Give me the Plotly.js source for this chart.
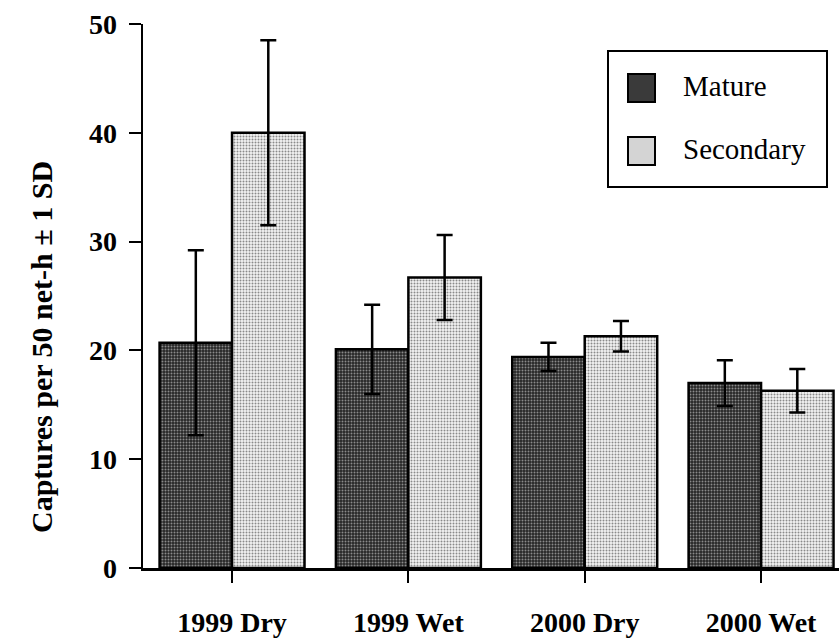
<!DOCTYPE html>
<html>
<head>
<meta charset="utf-8">
<script src="https://cdn.plot.ly/plotly-3.0.1.min.js"></script>
<style>html,body{margin:0;padding:0;background:#fff;}#chart{width:839px;height:639px;}</style>
</head>
<body>
<div id="chart"></div>
<script>
const categories = ['1999 Dry', '1999 Wet', '2000 Dry', '2000 Wet'];
const matureMean = [20.7, 20.1, 19.4, 17.0];
const matureSD = [8.5, 4.1, 1.3, 2.1];
const secondaryMean = [40.0, 26.7, 21.3, 16.3];
const secondarySD = [8.5, 3.9, 1.4, 2.0];
const yTicks = [0, 10, 20, 30, 40, 50];
const seriesNames = ['Mature', 'Secondary'];

const serif = 'Liberation Serif';
const errStyle = {type: 'data', visible: true, color: '#000', thickness: 2.5, width: 8};

const traces = [
  {
    type: 'bar', name: seriesNames[0], x: categories, y: matureMean,
    error_y: Object.assign({array: matureSD}, errStyle),
    marker: {color: '#3a3a3a', line: {color: '#000', width: 2.5},
      pattern: {shape: '.', bgcolor: '#262626', fgcolor: '#8a8a8a', size: 3, solidity: 0.35}},
    showlegend: false, hoverinfo: 'skip'
  },
  {
    type: 'bar', name: seriesNames[1], x: categories, y: secondaryMean,
    error_y: Object.assign({array: secondarySD}, errStyle),
    marker: {color: '#d4d4d4', line: {color: '#000', width: 2.5},
      pattern: {shape: '.', bgcolor: '#f4f4f4', fgcolor: '#8a8a8a', size: 3, solidity: 0.35}},
    showlegend: false, hoverinfo: 'skip'
  }
];

function px2x(px) { return (px - 143) / 696; }
function py2y(py) { return (568 - py) / 544; }

const shapes = [
  {type: 'rect', xref: 'paper', yref: 'paper', x0: px2x(608), x1: px2x(827), y0: py2y(187), y1: py2y(51),
   line: {color: '#000', width: 2}, fillcolor: '#fff'},
  {type: 'rect', xref: 'paper', yref: 'paper', x0: px2x(628), x1: px2x(655), y0: py2y(102), y1: py2y(74),
   line: {color: '#000', width: 2}, fillcolor: '#3a3a3a'},
  {type: 'rect', xref: 'paper', yref: 'paper', x0: px2x(628), x1: px2x(655), y0: py2y(165), y1: py2y(137),
   line: {color: '#000', width: 2}, fillcolor: '#d4d4d4'}
];

const annotations = [
  {xref: 'paper', yref: 'paper', x: px2x(681), y: py2y(86), xanchor: 'left', yanchor: 'middle',
   text: seriesNames[0], showarrow: false, font: {family: serif, size: 29, color: '#000'}},
  {xref: 'paper', yref: 'paper', x: px2x(681), y: py2y(149), xanchor: 'left', yanchor: 'middle',
   text: seriesNames[1], showarrow: false, font: {family: serif, size: 29, color: '#000'}},
  {xref: 'paper', yref: 'paper', x: px2x(41), y: py2y(347), xanchor: 'center', yanchor: 'middle',
   textangle: -90, text: 'Captures per 50 net-h ± 1 SD', showarrow: false,
   font: {family: serif, size: 30, color: '#000', weight: 'bold'}}
];

const layout = {
  width: 839, height: 639,
  font: {family: serif, color: '#000'},
  margin: {l: 143, r: 0, t: 24, b: 71, pad: 0},
  paper_bgcolor: '#fff', plot_bgcolor: '#fff',
  barmode: 'group', bargap: 0.178, bargroupgap: 0,
  showlegend: false,
  xaxis: {
    type: 'category', range: [-0.505, 3.442], fixedrange: true,
    showline: true, linecolor: '#000', linewidth: 2.5,
    ticks: 'outside', ticklen: 12, tickwidth: 2, tickcolor: '#000',
    showgrid: false, zeroline: false,
    tickfont: {family: serif, size: 28, color: '#000', weight: 'bold'},
    ticklabelstandoff: 16
  },
  yaxis: {
    range: [0, 50], tickvals: yTicks, ticktext: yTicks.map(String), fixedrange: true,
    showline: true, linecolor: '#000', linewidth: 2.5,
    ticks: 'outside', ticklen: 12, tickwidth: 2, tickcolor: '#000',
    showgrid: false, zeroline: false,
    tickfont: {family: serif, size: 28, color: '#000', weight: 'bold'},
    ticklabelstandoff: 6
  },
  shapes: shapes,
  annotations: annotations
};

Plotly.newPlot('chart', traces, layout, {displayModeBar: false, staticPlot: true});
</script>
</body>
</html>
